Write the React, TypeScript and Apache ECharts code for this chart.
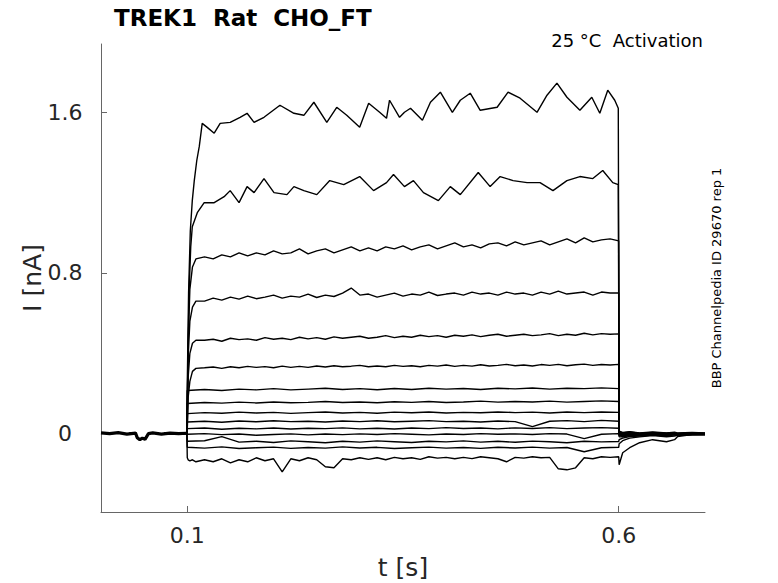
import { useEffect, useRef } from "react";
import * as echarts from "echarts";

// ---- time bases (s) ----
const preTimes = [0, 0.01, 0.02, 0.03, 0.04, 0.042, 0.045, 0.048, 0.051, 0.055, 0.06, 0.07, 0.08, 0.09, 0.0995];
const preValues = [0.004, 0.0, 0.005, -0.002, 0.003, -0.02, -0.03, -0.022, -0.028, 0.0, 0.004, -0.002, 0.003, 0.0, 0.002];
const onsetTimes = [0.1, 0.101, 0.103, 0.106, 0.11];
const fineStart = 0.12;
const fineStep = 0.01;
const coarseStart = 0.1;
const coarseStep = 0.02;
const tailTimes = [0.6005, 0.6046, 0.6127, 0.6242, 0.6393, 0.6554, 0.6647, 0.6681, 0.685, 0.7];

// ---- trace 1 (largest) ----
const top1Times = [0.1, 0.1015, 0.1035, 0.1058, 0.1081, 0.111, 0.1139, 0.1173, 0.1231, 0.1312, 0.1381, 0.1497, 0.1612, 0.1693, 0.1774, 0.1889, 0.2074, 0.2236, 0.2351, 0.2467, 0.2617, 0.2732, 0.2848, 0.2998, 0.3102, 0.3229, 0.3309, 0.3344, 0.346, 0.3517, 0.3587, 0.3725, 0.3818, 0.3933, 0.4072, 0.4164, 0.4279, 0.4395, 0.4591, 0.4718, 0.4857, 0.5053, 0.5169, 0.5284, 0.54, 0.555, 0.5688, 0.5781, 0.5873, 0.5954, 0.5995];
const top1Values = [0.25, 0.7, 1.01, 1.16, 1.26, 1.36, 1.43, 1.545, 1.525, 1.496, 1.545, 1.55, 1.575, 1.595, 1.55, 1.575, 1.635, 1.595, 1.585, 1.65, 1.55, 1.625, 1.585, 1.525, 1.645, 1.6, 1.57, 1.66, 1.575, 1.6, 1.62, 1.56, 1.65, 1.7, 1.6, 1.66, 1.695, 1.61, 1.625, 1.7, 1.67, 1.6, 1.685, 1.745, 1.675, 1.61, 1.675, 1.595, 1.71, 1.66, 1.62];
const top1Tail = [0.012, 0.006, 0.01, 0.004, 0.009, 0.003, 0.007, 0.004, 0.006, 0.003];

// ---- trace 2 ----
const top2Times = [0.1, 0.102, 0.104, 0.1058, 0.1116, 0.1196, 0.1312, 0.1427, 0.1497, 0.16, 0.1693, 0.1774, 0.1889, 0.2005, 0.2155, 0.2236, 0.2351, 0.2501, 0.2651, 0.2813, 0.2998, 0.3159, 0.3309, 0.339, 0.3517, 0.3621, 0.3737, 0.391, 0.4048, 0.4164, 0.4372, 0.451, 0.4626, 0.4776, 0.4938, 0.5088, 0.5238, 0.54, 0.555, 0.57, 0.5815, 0.5931, 0.5995];
const top2Values = [0.15, 0.7, 0.93, 1.03, 1.1, 1.15, 1.15, 1.18, 1.21, 1.15, 1.23, 1.2, 1.27, 1.2, 1.19, 1.23, 1.21, 1.19, 1.26, 1.24, 1.28, 1.21, 1.25, 1.29, 1.23, 1.26, 1.2, 1.16, 1.23, 1.19, 1.3, 1.23, 1.28, 1.26, 1.25, 1.25, 1.21, 1.26, 1.28, 1.27, 1.31, 1.25, 1.24];
const top2Tail = [0.01, 0.004, 0.008, 0.002, 0.006, 0.002, 0.005, 0.001, 0.004, 0.002];

// ---- traces 3-6 and bottom: onset + fine grid (0.12..0.60 by 0.01) ----
const t3Onset = [0.1, 0.45, 0.72, 0.83, 0.87];
const t3Values = [
  0.88, 0.87, 0.89, 0.88, 0.9, 0.885, 0.9, 0.89, 0.91, 0.895,
  0.9, 0.92, 0.895, 0.91, 0.92, 0.9, 0.915, 0.93, 0.91, 0.925,
  0.91, 0.93, 0.92, 0.935, 0.915, 0.93, 0.94, 0.92, 0.935, 0.95,
  0.93, 0.94, 0.925, 0.945, 0.95, 0.935, 0.955, 0.94, 0.95, 0.96,
  0.94, 0.955, 0.97, 0.95, 0.975, 0.955, 0.965, 0.97, 0.96,
];
const t3Tail = [0.008, 0.002, 0.006, 0.0, 0.005, 0.001, 0.004, 0.0, 0.003, 0.001];

const t4Onset = [0.06, 0.38, 0.56, 0.63, 0.66];
const t4Values = [
  0.66, 0.675, 0.665, 0.68, 0.67, 0.685, 0.672, 0.68, 0.69, 0.675,
  0.685, 0.68, 0.695, 0.678, 0.69, 0.683, 0.7, 0.725, 0.69, 0.695,
  0.68, 0.69, 0.7, 0.685, 0.695, 0.69, 0.705, 0.688, 0.695, 0.7,
  0.69, 0.705, 0.695, 0.7, 0.69, 0.705, 0.695, 0.7, 0.69, 0.705,
  0.695, 0.71, 0.695, 0.7, 0.705, 0.69, 0.705, 0.7, 0.7,
];
const t4Tail = [0.006, 0.0, 0.004, -0.002, 0.003, -0.001, 0.003, -0.001, 0.002, 0.0];

const t5Onset = [0.03, 0.28, 0.4, 0.45, 0.465];
const t5Values = [
  0.465, 0.47, 0.46, 0.475, 0.468, 0.472, 0.465, 0.478, 0.47, 0.475,
  0.468, 0.48, 0.472, 0.478, 0.47, 0.482, 0.475, 0.48, 0.485, 0.475,
  0.48, 0.488, 0.478, 0.485, 0.48, 0.49, 0.483, 0.488, 0.48, 0.49,
  0.485, 0.492, 0.483, 0.49, 0.495, 0.485, 0.49, 0.495, 0.488, 0.492,
  0.498, 0.488, 0.495, 0.49, 0.5, 0.492, 0.498, 0.495, 0.497,
];
const t5Tail = [0.004, -0.002, 0.003, -0.003, 0.002, -0.002, 0.002, -0.002, 0.001, -0.001];

const t6Onset = [0.02, 0.18, 0.26, 0.31, 0.325];
const t6Values = [
  0.328, 0.332, 0.325, 0.333, 0.328, 0.335, 0.33, 0.334, 0.328, 0.336,
  0.33, 0.335, 0.33, 0.337, 0.332, 0.338, 0.333, 0.336, 0.34, 0.333,
  0.337, 0.333, 0.34, 0.335, 0.338, 0.333, 0.34, 0.336, 0.342, 0.335,
  0.34, 0.336, 0.343, 0.337, 0.34, 0.345, 0.338, 0.342, 0.337, 0.344,
  0.34, 0.345, 0.338, 0.343, 0.346, 0.34, 0.344, 0.342, 0.345,
];
const t6Tail = [0.002, -0.004, 0.001, -0.004, 0.001, -0.003, 0.001, -0.003, 0.0, -0.002];

const t15Onset = [-0.12, -0.13, -0.135, -0.13, -0.14];
const t15Values = [
  -0.13, -0.14, -0.125, -0.145, -0.13, -0.14, -0.12, -0.135, -0.125, -0.19,
  -0.125, -0.135, -0.12, -0.13, -0.165, -0.17, -0.125, -0.13, -0.12, -0.128,
  -0.12, -0.13, -0.118, -0.125, -0.12, -0.128, -0.115, -0.122, -0.118, -0.125,
  -0.118, -0.124, -0.115, -0.12, -0.125, -0.14, -0.118, -0.122, -0.115, -0.12,
  -0.118, -0.175, -0.18, -0.17, -0.12, -0.125, -0.115, -0.118, -0.115,
];
const t15Tail = [-0.155, -0.095, -0.07, -0.045, -0.03, -0.04, -0.03, -0.015, -0.004, -0.003];

// ---- traces 7-14: coarse grid (0.10..0.60 by 0.02) ----
const t7Values = [
  0.215, 0.22, 0.215, 0.222, 0.218, 0.224, 0.218, 0.222, 0.226, 0.22,
  0.224, 0.219, 0.225, 0.22, 0.226, 0.222, 0.225, 0.22, 0.226, 0.223,
  0.227, 0.222, 0.226, 0.224, 0.228, 0.224,
];
const t7Tail = [0.0, -0.006, -0.001, -0.005, 0.0, -0.004, 0.0, -0.004, -0.001, -0.002];
const t8Values = [
  0.15, 0.155, 0.152, 0.157, 0.153, 0.158, 0.154, 0.156, 0.16, 0.155,
  0.158, 0.154, 0.159, 0.156, 0.16, 0.155, 0.158, 0.162, 0.157, 0.16,
  0.158, 0.162, 0.157, 0.16, 0.163, 0.16,
];
const t8Tail = [-0.002, -0.008, -0.003, -0.006, -0.001, -0.005, -0.001, -0.005, -0.002, -0.003];
const t9Values = [
  0.1, 0.105, 0.102, 0.107, 0.103, 0.106, 0.101, 0.105, 0.108, 0.103,
  0.106, 0.102, 0.107, 0.104, 0.108, 0.103, 0.106, 0.104, 0.108, 0.105,
  0.107, 0.103, 0.108, 0.105, 0.108, 0.106,
];
const t9Tail = [-0.004, -0.01, -0.004, -0.007, -0.002, -0.006, -0.002, -0.005, -0.002, -0.003];
const t10Values = [
  0.058, 0.062, 0.057, 0.063, 0.059, 0.064, 0.06, 0.062, 0.058, 0.063,
  0.06, 0.064, 0.059, 0.062, 0.065, 0.06, 0.062, 0.058, 0.063, 0.06,
  0.035, 0.062, 0.065, 0.06, 0.066, 0.062,
];
const t10Tail = [-0.006, -0.012, -0.006, -0.008, -0.003, -0.006, -0.003, -0.006, -0.003, -0.004];
const t11Values = [
  0.025, 0.028, 0.022, 0.027, 0.024, 0.028, 0.023, 0.027, 0.025, 0.029,
  0.024, 0.027, 0.023, 0.028, 0.025, 0.03, 0.026, 0.028, 0.024, 0.029,
  0.026, 0.03, 0.025, 0.028, 0.03, 0.027,
];
const t11Tail = [-0.01, -0.014, -0.008, -0.009, -0.004, -0.007, -0.003, -0.006, -0.003, -0.004];
const t12Values = [
  -0.003, 0.0, -0.005, -0.002, -0.008, -0.004, -0.001, -0.006, -0.002, -0.005,
  -0.001, -0.004, 0.0, -0.003, -0.006, -0.002, -0.004, 0.0, -0.003, -0.001,
  -0.004, 0.0, -0.002, -0.025, -0.003, 0.0,
];
const t12Tail = [-0.015, -0.016, -0.01, -0.01, -0.005, -0.008, -0.004, -0.007, -0.004, -0.005];
const t13Values = [
  -0.038, -0.035, -0.015, -0.042, -0.038, -0.044, -0.036, -0.04, -0.045, -0.038,
  -0.042, -0.036, -0.04, -0.044, -0.038, -0.041, -0.036, -0.042, -0.038, -0.043,
  -0.037, -0.04, -0.045, -0.038, -0.041, -0.039,
];
const t13Tail = [-0.03, -0.022, -0.014, -0.012, -0.007, -0.012, -0.006, -0.008, -0.004, -0.005];
const t14Values = [
  -0.068, -0.072, -0.066, -0.074, -0.07, -0.067, -0.073, -0.069, -0.072, -0.066,
  -0.071, -0.068, -0.074, -0.07, -0.067, -0.072, -0.069, -0.073, -0.068, -0.071,
  -0.067, -0.072, -0.069, -0.09, -0.07, -0.068,
];
const t14Tail = [-0.05, -0.035, -0.022, -0.016, -0.01, -0.015, -0.012, -0.008, -0.005, -0.005];

// ---- labels ----
const titleText = "TREK1  Rat  CHO_FT";
const conditionText = "25 °C  Activation";
const sourceText = "BBP Channelpedia ID 29670 rep 1";
const xName = "t [s]";
const yName = "I [nA]";
const xTicks = [0.1, 0.6];
const yTicks = [0, 0.8, 1.6];

type Pt = [number, number];
function pairs(ts: number[], vs: number[]): Pt[] {
  const n = Math.min(ts.length, vs.length);
  const out: Pt[] = [];
  for (let i = 0; i < n; i++) out.push([ts[i], vs[i]]);
  return out;
}
function gridTimes(t0: number, dt: number, n: number): number[] {
  const out: number[] = [];
  for (let i = 0; i < n; i++) out.push(+(t0 + i * dt).toFixed(4));
  return out;
}
const pre = () => pairs(preTimes, preValues);
function explicitTrace(ts: number[], vs: number[], tail: number[]): Pt[] {
  return [...pre(), ...pairs(ts, vs), ...pairs(tailTimes, tail)];
}
function fineTrace(onset: number[], vs: number[], tail: number[]): Pt[] {
  return [
    ...pre(),
    ...pairs(onsetTimes, onset),
    ...pairs(gridTimes(fineStart, fineStep, vs.length), vs),
    ...pairs(tailTimes, tail),
  ];
}
function coarseTrace(vs: number[], tail: number[]): Pt[] {
  return [...pre(), ...pairs(gridTimes(coarseStart, coarseStep, vs.length), vs), ...pairs(tailTimes, tail)];
}

const FONT = "DejaVu Sans";

export default function App() {
  const ref = useRef<HTMLDivElement>(null);
  useEffect(() => {
    if (!ref.current) return;
    const chart = echarts.init(ref.current, undefined, { renderer: "svg" });
    const traces: Pt[][] = [
      explicitTrace(top1Times, top1Values, top1Tail),
      explicitTrace(top2Times, top2Values, top2Tail),
      fineTrace(t3Onset, t3Values, t3Tail),
      fineTrace(t4Onset, t4Values, t4Tail),
      fineTrace(t5Onset, t5Values, t5Tail),
      fineTrace(t6Onset, t6Values, t6Tail),
      coarseTrace(t7Values, t7Tail),
      coarseTrace(t8Values, t8Tail),
      coarseTrace(t9Values, t9Tail),
      coarseTrace(t10Values, t10Tail),
      coarseTrace(t11Values, t11Tail),
      coarseTrace(t12Values, t12Tail),
      coarseTrace(t13Values, t13Tail),
      coarseTrace(t14Values, t14Tail),
      fineTrace(t15Onset, t15Values, t15Tail),
    ];
    const series: any[] = traces.map((d, i) => ({
      type: "line",
      name: "trace " + (i + 1),
      data: d,
      showSymbol: false,
      symbol: "none",
      silent: true,
      lineStyle: { color: "#000", width: 1.4 },
    }));
    series.push({
      type: "line",
      name: "baseline",
      data: pre(),
      showSymbol: false,
      symbol: "none",
      silent: true,
      lineStyle: { color: "#000", width: 3.2 },
    });
    const axisLine = { show: true, onZero: false, lineStyle: { color: "#666", width: 1 } };
    chart.setOption({
      animation: false,
      backgroundColor: "#fff",
      grid: { left: 101, right: 73, top: 44, bottom: 71, containLabel: false },
      xAxis: {
        type: "value",
        min: 0,
        max: 0.7,
        axisLine,
        splitLine: { show: false },
        axisTick: { show: true, inside: true, length: 6, lineStyle: { color: "#666" }, customValues: xTicks },
        axisLabel: { customValues: xTicks, fontFamily: FONT, fontSize: 22, color: "#262626", margin: 12 },
      },
      yAxis: {
        type: "value",
        min: -0.39,
        max: 1.94,
        axisLine,
        splitLine: { show: false },
        axisTick: { show: true, inside: true, length: 6, lineStyle: { color: "#666" }, customValues: yTicks },
        axisLabel: {
          customValues: yTicks,
          fontFamily: FONT,
          fontSize: 22,
          color: "#262626",
          margin: 36,
          align: "center",
        },
      },
      graphic: [
        {
          type: "text",
          left: 114,
          top: 6,
          style: { text: titleText, font: `bold 23px "${FONT}"`, fill: "#000" },
        },
        {
          type: "text",
          x: 703,
          y: 40,
          style: { text: conditionText, font: `18px "${FONT}"`, fill: "#000", align: "right", verticalAlign: "middle" },
        },
        {
          type: "text",
          x: 716,
          y: 278,
          rotation: Math.PI / 2,
          style: { text: sourceText, font: `13px "${FONT}"`, fill: "#000", align: "center", verticalAlign: "middle" },
        },
        {
          type: "text",
          x: 403,
          y: 567,
          style: { text: xName, font: `25px "${FONT}"`, fill: "#262626", align: "center", verticalAlign: "middle" },
        },
        {
          type: "text",
          x: 32,
          y: 278,
          rotation: Math.PI / 2,
          style: { text: yName, font: `25px "${FONT}"`, fill: "#262626", align: "center", verticalAlign: "middle" },
        },
      ],
      series,
    });
    return () => chart.dispose();
  }, []);
  return <div ref={ref} style={{ position: "fixed", left: 0, top: 0, width: 778, height: 583 }} />;
}
